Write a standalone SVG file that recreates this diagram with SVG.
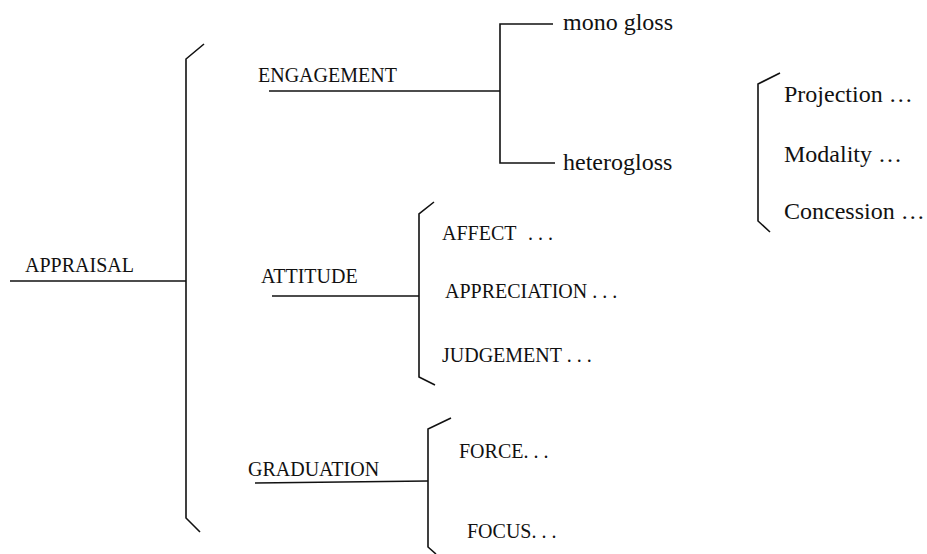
<svg xmlns="http://www.w3.org/2000/svg" width="927" height="554" viewBox="0 0 927 554">
<style>
text{font-family:"Liberation Serif","Times New Roman",serif;fill:#111}
.u{font-size:20px}
.l{font-size:24px}
.ln{stroke:#111;stroke-width:1.6;fill:none;stroke-linecap:butt}
</style>
<rect width="927" height="554" fill="#fff"/>
<g id="connectors">
<path class="ln" d="M204,44 L186,59 L186,518 L200,532"/>
<path class="ln" d="M10,281 L186,281"/>
<path class="ln" d="M269,91 L500,91"/>
<path class="ln" d="M553,24 L500,24 L500,163 L555,163"/>
<path class="ln" d="M780,73 L758,84 L758,221 L770,232"/>
<path class="ln" d="M272,296 L419,296"/>
<path class="ln" d="M434,202 L419,214 L419,377 L435,385"/>
<path class="ln" d="M255,483 L428,481"/>
<path class="ln" d="M451,418 L428,429 L428,547 L436,554"/>
</g>
<g id="appraisal"><text class="u" x="25" y="272">APPRAISAL</text></g>
<g id="engagement"><text class="u" x="258" y="82">ENGAGEMENT</text></g>
<g id="monogloss"><text class="l" x="563" y="30">mono gloss</text></g>
<g id="heterogloss"><text class="l" x="563" y="170">heterogloss</text></g>
<g id="projection"><text class="l" x="784" y="102">Projection …</text></g>
<g id="modality"><text class="l" x="784" y="162">Modality …</text></g>
<g id="concession"><text class="l" x="784" y="219">Concession …</text></g>
<g id="attitude"><text class="u" x="261" y="283">ATTITUDE</text></g>
<g id="affect"><text class="u" x="442" y="240">AFFECT<tspan x="528">. . .</tspan></text></g>
<g id="appreciation"><text class="u" x="445" y="298">APPRECIATION . . .</text></g>
<g id="judgement"><text class="u" x="442" y="362">JUDGEMENT . . .</text></g>
<g id="graduation"><text class="u" x="248" y="476">GRADUATION</text></g>
<g id="force"><text class="u" x="459" y="458">FORCE. . .</text></g>
<g id="focus"><text class="u" x="467" y="538">FOCUS. . .</text></g>
</svg>
